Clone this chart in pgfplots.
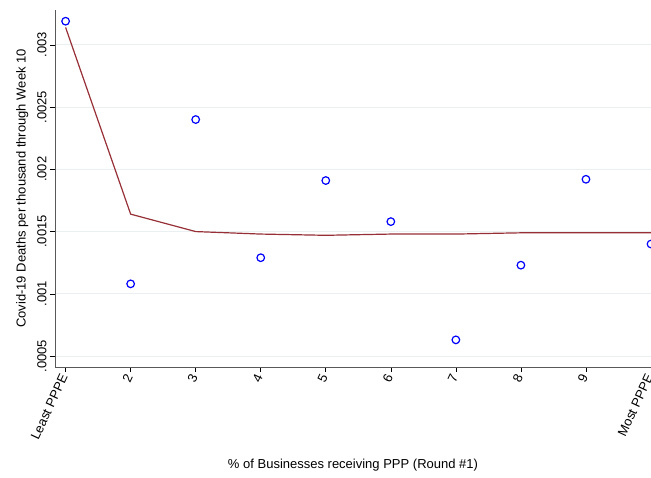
\documentclass[border=0pt]{standalone}
\usepackage{pgfplots}
\pgfplotsset{compat=1.18}
\usepackage{fontspec}
\setmainfont{Liberation Sans}
\definecolor{gridc}{HTML}{EAF0F2}
\definecolor{lnc}{HTML}{963036}
\begin{document}
\begin{tikzpicture}
\begin{axis}[name=ax,
  scale only axis, width=596pt, height=357pt,
  xmin=0.837, xmax=10, ymin=0.000412, ymax=0.00328,
  axis lines*=left, axis line style={gray!70!black, line width=0.8pt},
  scaled y ticks=false,
  xtick={1,...,10}, xticklabels={Least PPPE,2,3,4,5,6,7,8,9,Most PPPE},
  x tick label style={rotate=65, anchor=east, font=\fontsize{13}{14}\selectfont},
  ytick={0.0005,0.001,0.0015,0.002,0.0025,0.003},
  yticklabels={.0005,.001,.0015,.002,.0025,.003},
  y tick label style={rotate=90, anchor=south, font=\fontsize{13}{14}\selectfont},
  /pgf/number format/assume math mode=true,
  tick align=outside, tick style={black, line width=0.6pt}, major tick length=5pt,
  ymajorgrids, grid style={gridc, line width=0.8pt},
  xlabel={\% of Businesses receiving PPP (Round \#1)},
  ylabel={Covid-19 Deaths per thousand through Week 10},
  label style={font=\fontsize{13}{14}\selectfont},
  xlabel style={yshift=-10pt},
  ylabel style={yshift=2pt},
  clip=false,
]
\addplot[only marks, mark=o, mark size=3.8pt, draw=blue, line width=1.2pt] coordinates {
(1,0.00319) (2,0.00108) (3,0.00240) (4,0.00129) (5,0.00191)
(6,0.00158) (7,0.00063) (8,0.00123) (9,0.00192) (10,0.00140)};
\addplot[lnc, line width=1.2pt] coordinates {
(1,0.00314) (2,0.00164) (3,0.00150) (4,0.00148) (5,0.00147)
(6,0.00148) (7,0.00148) (8,0.00149) (9,0.00149) (10,0.00149)};
\end{axis}
\pgfresetboundingbox
\path[use as bounding box] ([shift={(-55pt,-110pt)}]ax.south west) rectangle ([shift={(0pt,10pt)}]ax.north east);
\end{tikzpicture}
\end{document}
